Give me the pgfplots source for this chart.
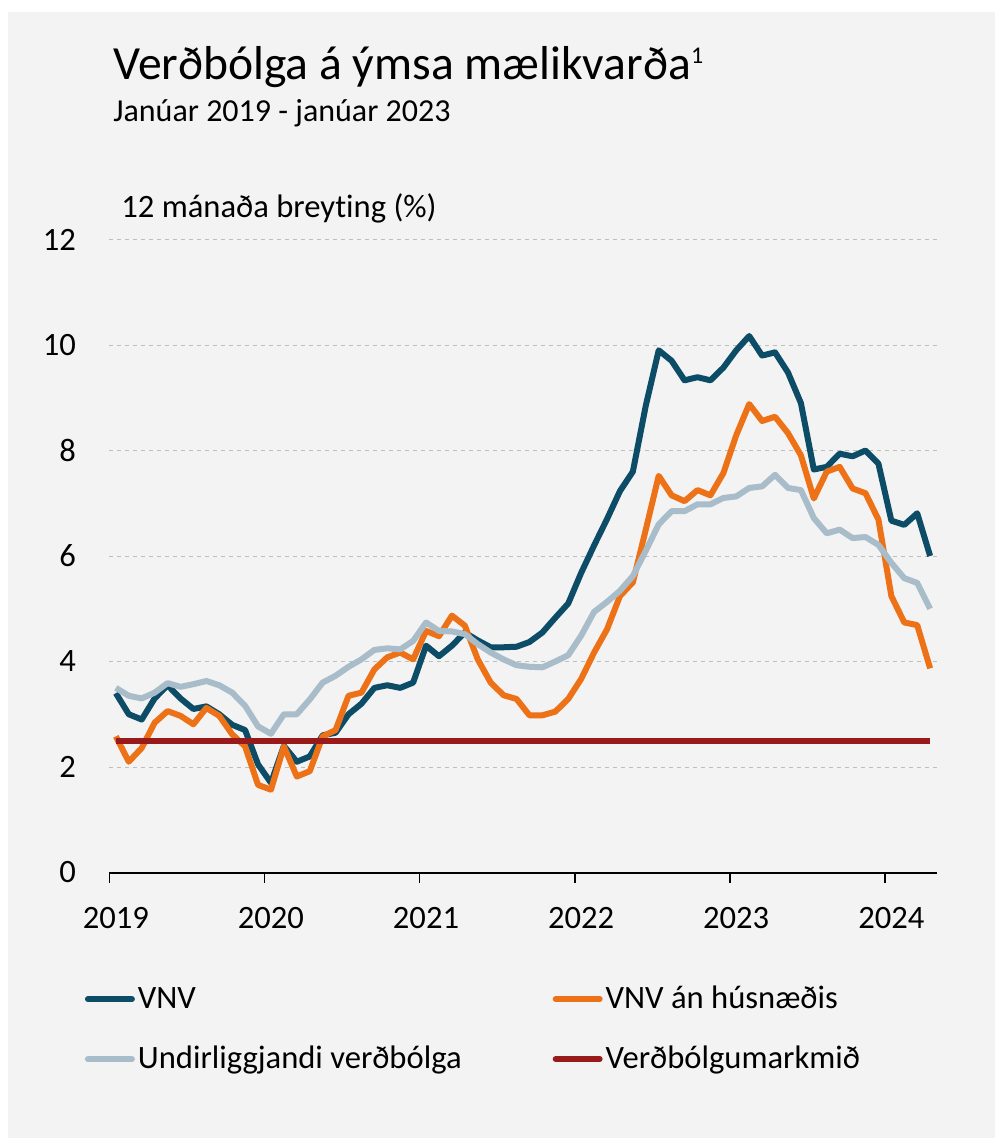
\documentclass[border=0pt]{standalone}
\usepackage{fontspec}
\setmainfont{Carlito}[Ligatures={NoCommon}]
\usepackage{pgfplots}
\pgfplotsset{compat=1.18}
\definecolor{bgc}{RGB}{243,243,243}
\definecolor{vnv}{RGB}{12,76,102}
\definecolor{vnvah}{RGB}{237,113,23}
\definecolor{undir}{RGB}{168,189,201}
\definecolor{markc}{RGB}{152,26,26}
\definecolor{gridc}{RGB}{190,190,190}
\begin{document}
\begin{tikzpicture}
\useasboundingbox (0pt,0pt) rectangle (497.5pt,-569pt);
\fill[white] (0pt,0pt) rectangle (497.5pt,-569pt);
\fill[bgc] (4pt,-6pt) rectangle (497.5pt,-569pt);
\begin{scope}[x=0.5pt,y=-0.5pt]
\node[anchor=base west, inner sep=0pt, font=\fontsize{23.8pt}{24pt}\selectfont] at (113,79.3) {Verðbólga á ýmsa mælikvarða\raisebox{8pt}{\fontsize{12pt}{12pt}\selectfont 1}};
\node[anchor=base west, inner sep=0pt, font=\fontsize{16pt}{17pt}\selectfont] at (113,122) {Janúar 2019 - janúar 2023};
\node[anchor=base west, inner sep=0pt, font=\fontsize{16.3pt}{17pt}\selectfont] at (121,217.7) {12 mánaða breyting (\%)};
\end{scope}
\begin{axis}[
  at={(54.7pt,-436.25pt)}, anchor=south west,
  scale only axis, width=413.6pt, height=316.5pt,
  xmin=0, xmax=64, ymin=0, ymax=12,
  axis x line*=bottom, axis y line*=left,
  x axis line style={line width=1pt, -},
  y axis line style={draw=none},
  ytick style={draw=none},
  xtick style={line width=0.8pt, black},
  tick align=outside, major tick length=5pt,
  xtick={0,12,24,36,48,60},
  xticklabels={2019,2020,2021,2022,2023,2024},
  ytick={0,2,4,6,8,10,12},
  ymajorgrids,
  grid style={gridc, dash pattern=on 2pt off 2pt, line width=0.5pt},
  /pgf/number format/assume math mode=true,
  ticklabel style={font=\fontsize{16.3pt}{17pt}\selectfont},
  yticklabel style={anchor=east, inner sep=0pt, xshift=-11.5pt},
  xticklabel style={anchor=north, inner sep=0pt, yshift=-12pt, xshift=3.2pt},
  clip=false,
  legend columns=2,
  legend cell align=left,
  legend style={draw=none, fill=none, inner sep=0pt,
    at={(-0.0337,-0.1733)}, anchor=north west,
    font=\fontsize{16.3pt}{17pt}\selectfont,
    nodes={inner sep=1pt, text height=12pt, text depth=2.5pt},
    row sep=13.5pt, column sep=0pt,
    /tikz/column 2/.style={column sep=43pt}},
  legend image code/.code={\draw[#1, line cap=round] (1.5pt,0pt) -- (23.5pt,0pt); \path (0pt,0pt) (24pt,0pt);},
  every axis plot/.append style={line width=3pt, line join=round},
]
\addplot[vnv] coordinates {
(0.5,3.4) (1.5,3.0) (2.5,2.9) (3.5,3.3) (4.5,3.55) (5.5,3.3) (6.5,3.1) (7.5,3.15) (8.5,3.0) (9.5,2.8) (10.5,2.7) (11.5,2.05)
(12.5,1.7) (13.5,2.4) (14.5,2.1) (15.5,2.2) (16.5,2.6) (17.5,2.65) (18.5,3.0) (19.5,3.2) (20.5,3.5) (21.5,3.55) (22.5,3.5) (23.5,3.6)
(24.5,4.3) (25.5,4.1) (26.5,4.3) (27.5,4.55) (28.5,4.4) (29.5,4.27) (30.5,4.27) (31.5,4.28) (32.5,4.37) (33.5,4.55) (34.5,4.83) (35.5,5.1)
(36.5,5.68) (37.5,6.2) (38.5,6.7) (39.5,7.23) (40.5,7.6) (41.5,8.85) (42.5,9.9) (43.5,9.7) (44.5,9.33) (45.5,9.39) (46.5,9.33) (47.5,9.57)
(48.5,9.9) (49.5,10.17) (50.5,9.8) (51.5,9.86) (52.5,9.48) (53.5,8.9) (54.5,7.64) (55.5,7.69) (56.5,7.94) (57.5,7.89) (58.5,8.0) (59.5,7.75)
(60.5,6.67) (61.5,6.59) (62.5,6.81) (63.5,6.0)
};
\addlegendentry{VNV}
\addplot[vnvah] coordinates {
(0.5,2.58) (1.5,2.1) (2.5,2.36) (3.5,2.84) (4.5,3.06) (5.5,2.97) (6.5,2.81) (7.5,3.12) (8.5,2.97) (9.5,2.62) (10.5,2.39) (11.5,1.66)
(12.5,1.57) (13.5,2.39) (14.5,1.82) (15.5,1.92) (16.5,2.58) (17.5,2.7) (18.5,3.35) (19.5,3.41) (20.5,3.85) (21.5,4.08) (22.5,4.17) (23.5,4.04)
(24.5,4.58) (25.5,4.48) (26.5,4.87) (27.5,4.68) (28.5,4.04) (29.5,3.6) (30.5,3.36) (31.5,3.29) (32.5,2.98) (33.5,2.98) (34.5,3.05) (35.5,3.29)
(36.5,3.67) (37.5,4.17) (38.5,4.61) (39.5,5.24) (40.5,5.5) (41.5,6.5) (42.5,7.52) (43.5,7.15) (44.5,7.04) (45.5,7.25) (46.5,7.15) (47.5,7.57)
(48.5,8.29) (49.5,8.88) (50.5,8.56) (51.5,8.64) (52.5,8.33) (53.5,7.91) (54.5,7.09) (55.5,7.6) (56.5,7.69) (57.5,7.28) (58.5,7.19) (59.5,6.69)
(60.5,5.24) (61.5,4.74) (62.5,4.69) (63.5,3.87)
};
\addlegendentry{VNV án húsnæðis}
\addplot[undir] coordinates {
(0.5,3.5) (1.5,3.35) (2.5,3.3) (3.5,3.41) (4.5,3.59) (5.5,3.52) (6.5,3.57) (7.5,3.63) (8.5,3.55) (9.5,3.41) (10.5,3.16) (11.5,2.77)
(12.5,2.63) (13.5,3.0) (14.5,3.0) (15.5,3.28) (16.5,3.6) (17.5,3.73) (18.5,3.9) (19.5,4.04) (20.5,4.22) (21.5,4.25) (22.5,4.23) (23.5,4.39)
(24.5,4.74) (25.5,4.58) (26.5,4.57) (27.5,4.52) (28.5,4.33) (29.5,4.17) (30.5,4.04) (31.5,3.93) (32.5,3.9) (33.5,3.89) (34.5,4.0) (35.5,4.12)
(36.5,4.49) (37.5,4.94) (38.5,5.13) (39.5,5.34) (40.5,5.62) (41.5,6.1) (42.5,6.6) (43.5,6.85) (44.5,6.85) (45.5,6.98) (46.5,6.98) (47.5,7.1)
(48.5,7.13) (49.5,7.29) (50.5,7.32) (51.5,7.54) (52.5,7.29) (53.5,7.25) (54.5,6.72) (55.5,6.43) (56.5,6.5) (57.5,6.34) (58.5,6.36) (59.5,6.21)
(60.5,5.87) (61.5,5.58) (62.5,5.49) (63.5,5.0)
};
\addlegendentry{Undirliggjandi verðbólga}
\addplot[markc] coordinates {(0.5,2.5) (63.5,2.5)};
\addlegendentry{Verðbólgumarkmið}
\end{axis}
\end{tikzpicture}
\end{document}
